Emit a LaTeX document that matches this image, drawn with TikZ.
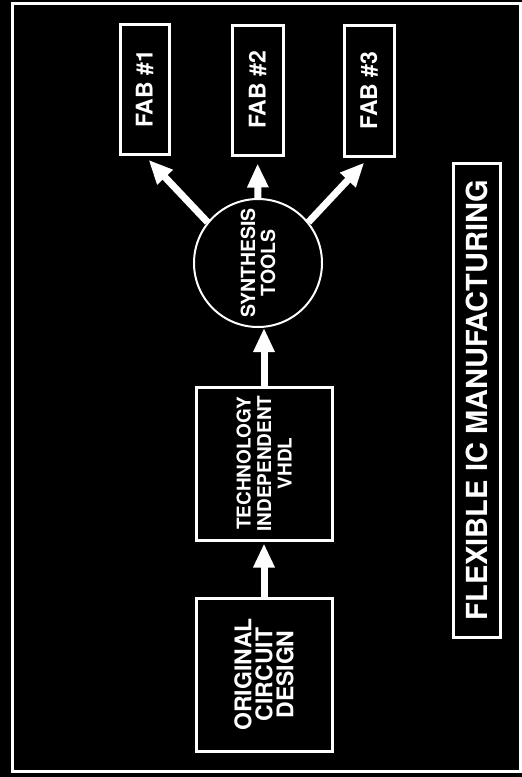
\documentclass[tikz,border=0pt]{standalone}
\usepackage{fontspec}
\setmainfont{TeX Gyre Heros}
\usetikzlibrary{arrows.meta}
\tikzset{
  box/.style={draw=white, line width=3pt, rotate=90, inner sep=0pt, text=white, align=center, font=\bfseries},
  arr/.style={draw=white, line width=7pt, -{Triangle[width=20pt,length=24pt]}, fill=white},
}
\begin{document}
\begin{tikzpicture}[x=1pt,y=-1pt]
\fill[black] (0,0) rectangle (522,777);
\useasboundingbox (0,0) rectangle (522,777);
\node[draw=white, line width=3pt, minimum width=508pt, minimum height=768pt, inner sep=0pt] (frame) at (266.5,387.5) {};
\node[box, minimum width=130pt, minimum height=49pt, font=\fontsize{23}{23}\selectfont\bfseries] (fab1) at (144.5,89) {FAB \#1};
\node[box, minimum width=130pt, minimum height=51pt, font=\fontsize{23}{23}\selectfont\bfseries] (fab2) at (257.5,90) {FAB \#2};
\node[box, minimum width=131pt, minimum height=50pt, font=\fontsize{23}{23}\selectfont\bfseries] (fab3) at (369,90.5) {FAB \#3};
\node[draw=white, line width=2pt, circle, minimum size=128pt, inner sep=0pt, rotate=90, text=white, align=center, font=\fontsize{19.5}{20}\selectfont\bfseries] (synth) at (258,263) {SYNTHESIS\\TOOLS};
\node[box, minimum width=153pt, minimum height=136pt, font=\fontsize{19}{20.5}\selectfont\bfseries] (tech) at (264,463.5) {TECHNOLOGY\\INDEPENDENT\\VHDL};
\node[box, minimum width=153pt, minimum height=136pt, font=\fontsize{23}{21}\selectfont\bfseries] (orig) at (264,674.5) {ORIGINAL\\CIRCUIT\\DESIGN};
\node[box, minimum width=474pt, minimum height=47pt, font=\fontsize{29}{29}\selectfont\bfseries] (title) at (476.5,400) {FLEXIBLE IC MANUFACTURING};
\draw[arr] (orig.east) -- ([yshift=-2pt]tech.west);
\draw[arr] (tech.east) -- (tech.east |- synth.west);
\draw[arr, shorten >=6pt] (synth.51) -- (fab1.west);
\draw[arr, shorten >=7pt] (synth.east) -- (fab2.west);
\draw[arr, shorten >=7pt] (synth.-51) -- (fab3.west);
\end{tikzpicture}
\end{document}
